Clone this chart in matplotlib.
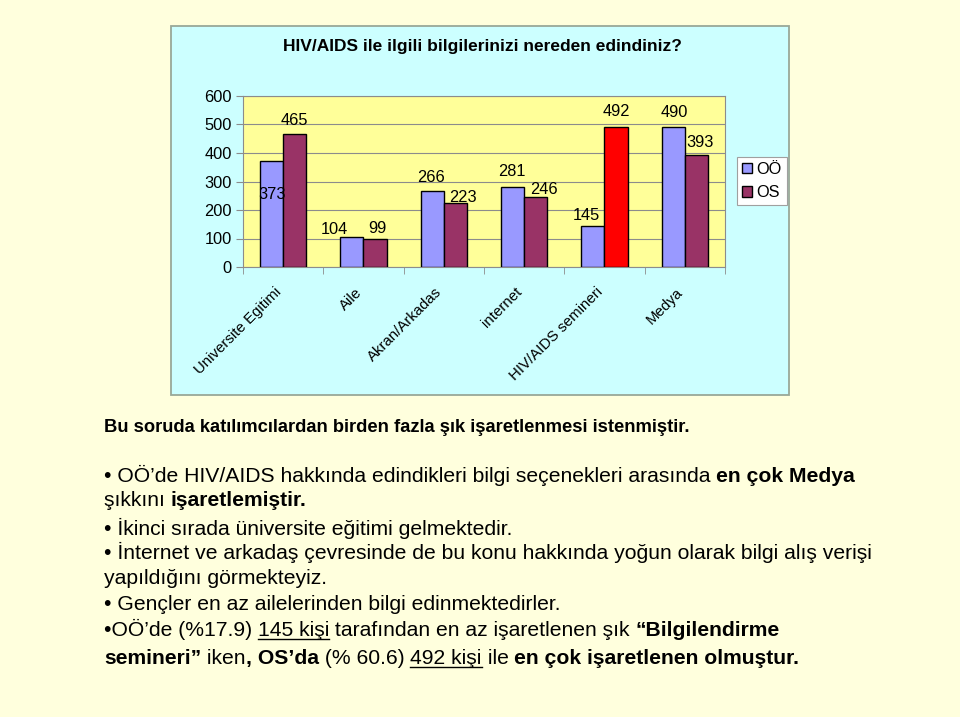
import matplotlib
matplotlib.use("Agg")
import matplotlib.pyplot as plt
import numpy as np
from matplotlib.patches import Rectangle
from matplotlib.lines import Line2D
from matplotlib.transforms import IdentityTransform, ScaledTranslation

plt.rcParams['font.family'] = ['Liberation Sans', 'DejaVu Sans']

# chart data
categories = ['Universite Egitimi', 'Aile', 'Akran/Arkadas', 'internet',
              'HIV/AIDS semineri', 'Medya']
oo_values = [373, 104, 266, 281, 145, 490]
os_values = [465, 99, 223, 246, 492, 393]
yticks = [0, 100, 200, 300, 400, 500, 600]

# label nudges (pixels), as the labels sit in the original
oo_dx = [1, -17, -1, -1, -6, 1]
oo_dy = [-34, 8, 14, 15, 10, 15]
os_dx = [0, 2, 7, 8, 0, 4]
os_dy = [14, 10, 6, 7, 15, 12]

title = 'HIV/AIDS ile ilgili bilgilerinizi nereden edindiniz?'
note = 'Bu soruda katılımcılardan birden fazla şık işaretlenmesi istenmiştir.'

# slide text: each line is a list of (text, bold, underline) runs
lines = [
    [('• OÖ’de HIV/AIDS hakkında edindikleri bilgi seçenekleri arasında ', False, False),
     ('en çok Medya', True, False)],
    [('şıkkını ', False, False), ('işaretlemiştir.', True, False)],
    [('• İkinci sırada üniversite eğitimi gelmektedir.', False, False)],
    [('• İnternet ve arkadaş çevresinde de bu konu hakkında yoğun olarak bilgi alış verişi', False, False)],
    [('yapıldığını görmekteyiz.', False, False)],
    [('• Gençler en az ailelerinden bilgi edinmektedirler.', False, False)],
    [('•OÖ’de (%17.9) ', False, False), ('145 kişi', False, True),
     (' tarafından en az işaretlenen şık ', False, False), ('“Bilgilendirme', True, False)],
    [('semineri”', True, False), (' iken', False, False), (', OS’da', True, False),
     (' (% 60.6) ', False, False), ('492 kişi', False, True), (' ile ', False, False),
     ('en çok işaretlenen olmuştur.', True, False)],
]
line_y = [476, 500, 529, 553, 578, 604, 630, 658]

W, H = 960, 717
fig = plt.figure(figsize=(W / 100, H / 100), dpi=100)
fig.patch.set_facecolor('#FFFFDD')

# chart box
fig.add_artist(Rectangle((171 / W, 1 - 395 / H), 618 / W, 369 / H,
                         transform=fig.transFigure, facecolor='#CCFFFF',
                         edgecolor='#98A898', linewidth=1.3, zorder=0))

ax = fig.add_axes([243 / W, 1 - 267 / H, 482 / W, 171 / H])
ax.set_facecolor('#FFFF99')
x = np.arange(len(categories))
w = 0.29
os_colors = ['#993366'] * len(categories)
os_colors[4] = '#FF0000'
ax.bar(x - w / 2, oo_values, w, color='#9999FF', edgecolor='black',
       linewidth=1, zorder=3, label='OÖ')
b2 = ax.bar(x + w / 2, os_values, w, color=os_colors, edgecolor='black',
            linewidth=1, zorder=3, label='OS')

ax.set_ylim(0, 600)
ax.set_xlim(-0.5, len(categories) - 0.5)
ax.set_yticks(yticks)
ax.yaxis.grid(True, color='#8C8C8C', linewidth=0.8, zorder=1)
for s in ax.spines.values():
    s.set_color('#8C8C8C')
    s.set_linewidth(0.8)
ax.tick_params(axis='y', direction='out', length=5, color='#8C8C8C',
               labelsize=11.8, pad=3)
ax.set_xticks(x)
ax.set_xticklabels(categories, rotation=45, ha='right', va='top',
                   rotation_mode='anchor', fontsize=10.8)
ax.tick_params(axis='x', length=0, pad=13)
shift = ScaledTranslation(-9 / 100, 0, fig.dpi_scale_trans)
for lab in ax.get_xticklabels():
    lab.set_transform(lab.get_transform() + shift)
ax.set_xticks(np.arange(-0.5, len(categories), 1), minor=True)
ax.tick_params(axis='x', which='minor', direction='out', length=5, color='#8C8C8C')

for i in range(len(categories)):
    ax.annotate(str(oo_values[i]), (x[i] - w / 2, oo_values[i]),
                xytext=(oo_dx[i], oo_dy[i]), textcoords='offset pixels',
                ha='center', va='center', fontsize=11.8, zorder=5)
    ax.annotate(str(os_values[i]), (x[i] + w / 2, os_values[i]),
                xytext=(os_dx[i], os_dy[i]), textcoords='offset pixels',
                ha='center', va='center', fontsize=11.8, zorder=5)

leg = ax.legend(loc='upper left', bbox_to_anchor=(737 / W, 1 - 157 / H),
                bbox_transform=fig.transFigure, fontsize=11.8, frameon=True,
                fancybox=False, edgecolor='#A0A0A0', framealpha=1,
                handlelength=0.6, handleheight=0.6, handletextpad=0.3,
                borderpad=0.3, labelspacing=0.5, borderaxespad=0)
leg.get_frame().set_linewidth(0.8)

fig.text(482 / W, 1 - 47 / H, title, ha='center', va='center',
         fontsize=12.5, fontweight='bold')
fig.text(104 / W, 1 - 428 / H, note, ha='left', va='center',
         fontsize=13.2, fontweight='bold')

renderer = fig.canvas.get_renderer()


def run_width(s, bold, size):
    t = fig.text(0, 0, '|' + s + '|', fontsize=size,
                 fontweight='bold' if bold else 'normal')
    t2 = fig.text(0, 0, '||', fontsize=size,
                  fontweight='bold' if bold else 'normal')
    wd = t.get_window_extent(renderer).width - t2.get_window_extent(renderer).width
    t.remove()
    t2.remove()
    return wd


size = 15.2
for runs, yy in zip(lines, line_y):
    px = 104
    py = H - yy - 6
    for s, bold, under in runs:
        fig.text(px, py, s, transform=IdentityTransform(), ha='left',
                 va='baseline', fontsize=size,
                 fontweight='bold' if bold else 'normal')
        wd = run_width(s, bold, size)
        if under:
            fig.add_artist(Line2D([px, px + wd], [py - 3, py - 3],
                                  transform=IdentityTransform(),
                                  color='black', linewidth=1))
        px += wd

fig.savefig('out.png', dpi=100, facecolor=fig.get_facecolor())
